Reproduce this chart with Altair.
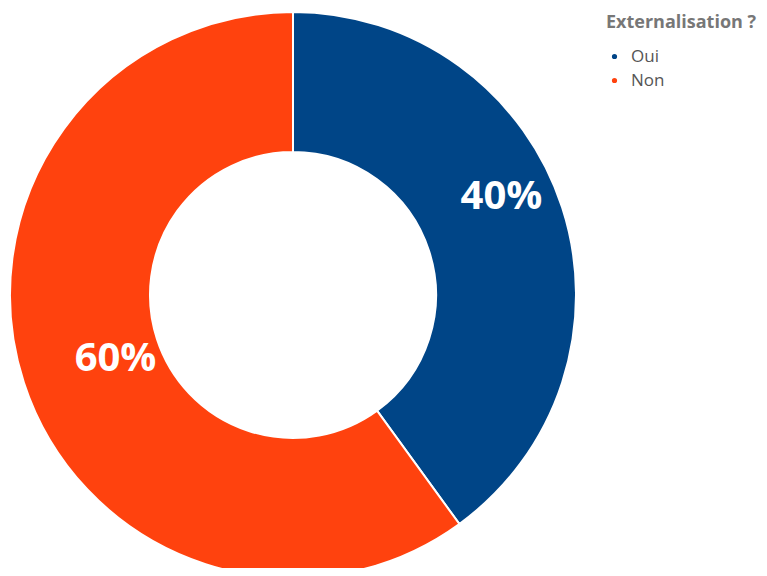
import altair as alt
import pandas as pd

categories = ["Oui", "Non"]
values = [40, 60]
labels = ["40%", "60%"]
colors = ["#004587", "#FF420E"]

df = pd.DataFrame({"cat": categories, "val": values, "lab": labels, "ord": [0, 1]})

arc = alt.Chart(df).mark_arc(
    outerRadius=283, innerRadius=143, stroke="white", strokeWidth=2
).encode(
    theta=alt.Theta("val:Q", stack=True),
    order=alt.Order("ord:Q"),
    x=alt.value(285), y=alt.value(287),
    color=alt.Color(
        "cat:N",
        scale=alt.Scale(domain=categories, range=colors),
        sort=categories,
        legend=alt.Legend(
            title="Externalisation ?",
            orient="none", legendX=598, legendY=6,
            titleFont="Open Sans", titleFontSize=18, titleFontWeight="bold",
            titleColor="#777777", titlePadding=16,
            labelFont="Open Sans", labelFontSize=17, labelColor="#555555",
            symbolType="circle", symbolSize=45, rowPadding=6, labelOffset=8,
        ),
    ),
)

stacked = alt.Chart(df).transform_window(
    s1="sum(val)", sort=[alt.SortField("ord")]
).transform_joinaggregate(
    tot="sum(val)"
).transform_calculate(
    mid="(datum.s1 - datum.val / 2) / datum.tot"
)

def label_layer(name, dx, dy):
    return stacked.transform_filter(alt.datum.cat == name).mark_text(
        radius=215, font="Open Sans", fontSize=40, fontWeight="bold",
        color="white", baseline="middle", align="center", dx=dx, dy=dy,
    ).encode(
        theta=alt.Theta("mid:Q", stack=None, scale=alt.Scale(domain=[0, 1], range=[0, 6.283185307])),
        x=alt.value(285), y=alt.value(287), text="lab:N",
    )

chart = alt.layer(arc, label_layer("Oui", 4, -32), label_layer("Non", 27, -2)).resolve_scale(
    theta="independent"
).properties(
    width=751, height=560,
    autosize=alt.AutoSizeParams(type="none"),
    padding=0,
).configure_view(stroke=None)

chart.save("out.html", embed_options={"renderer": "svg", "actions": False})
